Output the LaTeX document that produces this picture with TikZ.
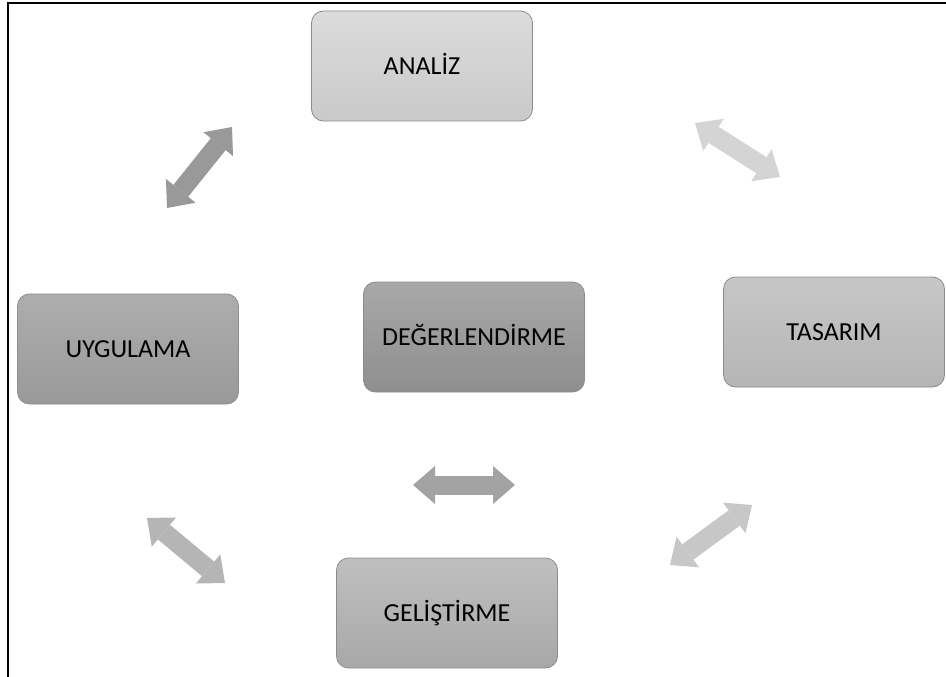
\documentclass[tikz,border=0pt]{standalone}
\usepackage{fontspec}
\setmainfont{Carlito}
\usetikzlibrary{arrows.meta}
\begin{document}
\begin{tikzpicture}[x=1pt,y=-1pt]

\tikzset{box/.style = {shape=rectangle, rounded corners=12pt, draw=black!45, line width=0.8pt, minimum width=221pt, minimum height=110pt, text height=17pt, text depth=0pt, font=\fontsize{26}{30}\selectfont}}
\tikzset{dbl/.style = {<->, >={Triangle[length=22pt,width=38pt,line width=0pt]}, line width=19pt}}
\useasboundingbox (0,0) rectangle (946,677);
%frame
\draw [line width=1.8pt] (8,677) -- (8,3) -- (946,3);
%boxes
\node[box, top color=black!14, bottom color=black!21] (analiz) at (422,66) {ANALİZ};
\node[box, top color=black!22, bottom color=black!29] (tasarim) at (834,332) {TASARIM};
\node[box, top color=black!25, bottom color=black!34] (gelistirme) at (447,613) {GELİŞTİRME};
\node[box, top color=black!32, bottom color=black!40] (uygulama) at (128,349) {UYGULAMA};
\node[box, top color=black!34, bottom color=black!44] (degerlendirme) at (474,337) {DEĞERLENDİRME};
%arrow ends
\coordinate (a1) at (167,208); \coordinate (b1) at (232,127);
\coordinate (a2) at (695,123); \coordinate (b2) at (780,177);
\coordinate (a3) at (147,518); \coordinate (b3) at (225,583);
\coordinate (a4) at (670,565); \coordinate (b4) at (752,505);
\coordinate (a5) at (413,485); \coordinate (b5) at (515,485);
\draw [dbl, black!40] (a1) -- (b1);
\draw [dbl, black!17] (a2) -- (b2);
\draw [dbl, black!29] (a3) -- (b3);
\draw [dbl, black!22] (a4) -- (b4);
\draw [dbl, black!36] (a5) -- (b5);

\end{tikzpicture}
\end{document}
